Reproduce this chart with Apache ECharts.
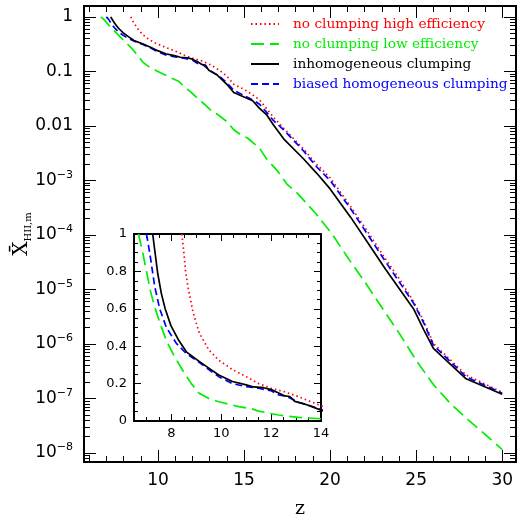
<!DOCTYPE html>
<html><head><meta charset="utf-8">
<script src="https://cdn.jsdelivr.net/npm/echarts@6/dist/echarts.min.js"></script>
<style>html,body{margin:0;padding:0;background:#fff}#c{width:522px;height:516px}</style>
</head><body><div id="c"></div>
<script>
// ---- data ----
const seriesNames = ['no clumping high efficiency','no clumping low efficiency','inhomogeneous clumping','biased homogeneous clumping'];
const zRed = [8.42,8.5,8.57,8.66,8.87,9.12,9.5,9.9,10.45,11.0,11.5,12.0,12.5,13.1,13.6,14.0,14.4,15.0,15.5,15.9,16.3,16.7,17.3,18.45,19.2,20.0,21.2,22.2,23.2,24.0,24.85,25.45,26.0,27.9,30.0];
const vRed = [1.0,0.9,0.8,0.72,0.58,0.47,0.38,0.325,0.275,0.237,0.2,0.175,0.158,0.13,0.103,0.082,0.058,0.047,0.037,0.03,0.021,0.0145,0.0091,0.0038,0.002,0.00112,0.00033,0.000112,0.000037,0.000016,0.000006,0.0000026,0.00000102,0.00000027,0.00000013];
const zGreen = [6.68,6.85,7.0,7.15,7.33,7.55,7.8,8.1,8.5,8.8,9.1,9.5,9.9,10.3,10.7,11.2,11.5,11.9,12.3,12.7,13.1,13.5,14.0,14.4,14.8,15.2,15.6,15.9,16.3,16.9,17.5,18.1,18.7,19.2,20.1,21.1,22.1,23.0,24.0,25.0,26.0,27.0,28.0,29.0,30.0];
const vGreen = [1.0,0.9,0.8,0.7,0.61,0.52,0.43,0.35,0.26,0.2,0.15,0.12,0.103,0.09,0.077,0.066,0.053,0.042,0.032,0.025,0.019,0.016,0.012,0.0085,0.0069,0.006,0.0047,0.0039,0.0025,0.00155,0.00085,0.00058,0.00036,0.00024,0.000105,0.0000355,0.0000126,0.0000047,0.0000016,0.0000005,0.00000018,0.00000008,0.000000041,0.000000022,0.0000000115];
const zBlack = [7.25,7.45,7.6,7.75,7.98,8.3,8.6,9.1,9.5,9.9,10.45,11.0,11.3,11.7,12.0,12.3,12.55,12.75,12.95,13.4,14.0,14.4,15.0,15.5,15.9,16.3,16.7,17.3,18.45,19.2,20.0,21.2,22.2,23.2,24.0,24.85,25.45,26.0,27.9,30.0];
const vBlack = [1.0,0.79,0.68,0.6,0.51,0.43,0.37,0.32,0.283,0.246,0.211,0.193,0.182,0.178,0.168,0.15,0.134,0.131,0.105,0.088,0.058,0.041,0.034,0.029,0.021,0.0162,0.0105,0.0058,0.0025,0.00138,0.0007,0.00021,0.000071,0.000024,0.0000105,0.0000044,0.0000018,0.00000083,0.00000023,0.00000012];
const zBlue = [7.0,7.13,7.33,7.53,7.8,8.2,8.6,9.1,9.5,9.9,10.45,11.0,11.5,12.0,12.3,12.6,13.1,13.6,14.0,14.4,15.0,15.5,15.9,16.3,16.7,17.3,18.45,19.2,20.0,21.2,22.2,23.2,24.0,24.85,25.45,26.0,27.9,30.0];
const vBlue = [1.0,0.9,0.72,0.6,0.5,0.415,0.36,0.315,0.275,0.237,0.2,0.184,0.175,0.162,0.14,0.133,0.1,0.08,0.062,0.045,0.036,0.03,0.025,0.018,0.0126,0.0085,0.0035,0.0018,0.001,0.0003,0.0001,0.000033,0.000014,0.0000056,0.0000024,0.00000095,0.00000025,0.000000125];

// ---- tick values ----
const mainXMajor = [10,15,20,25,30];
const mainXMinor = [6,7,8,9,11,12,13,14,16,17,18,19,21,22,23,24,26,27,28,29];
const mainYMajor = [1e-8,1e-7,1e-6,1e-5,1e-4,1e-3,0.01,0.1,1];
const mainYMinor = [];
for (let e = -9; e <= 0; e++) for (let k = 2; k <= 9; k++) mainYMinor.push(k * Math.pow(10, e));
const insetXMajor = [8,10,12,14];
const insetXMinor = [7,7.5,8.5,9,9.5,10.5,11,11.5,12.5,13,13.5];
const insetYMajor = [0,0.2,0.4,0.6,0.8,1];
const insetYMinor = [0.05,0.1,0.15,0.25,0.3,0.35,0.45,0.5,0.55,0.65,0.7,0.75,0.85,0.9,0.95];

const colors = ['#ff0000','#00ee00','#000000','#0000ff'];
const dashes = [[1.5,3],[13,6],'solid',[7,4]];
const zs = [zRed,zGreen,zBlack,zBlue];
const vs = [vRed,vGreen,vBlack,vBlue];

const SANS = 'DejaVu Sans';
const SERIF = 'DejaVu Serif';

function base(o) {
  const a = {
    type: o.type || 'value', gridIndex: o.grid, position: o.pos,
    min: o.min, max: o.max,
    axisLine: {show: false, onZero: false},
    axisTick: {show: false},
    axisLabel: {show: false},
    splitLine: {show: false}, minorTick: {show: false}, minorSplitLine: {show: false}
  };
  if (o.type === 'log') a.logBase = 10;
  return a;
}
function tickAxis(o) {
  const a = base(o);
  a.axisTick = {show: true, inside: true, length: o.len, customValues: o.ticks.slice(),
                lineStyle: {color: '#000', width: 1}};
  return a;
}
function labelAxis(o, labels, extra) {
  const a = base(o);
  a.axisLabel = Object.assign({show: true, customValues: o.ticks.slice(), color: '#000'}, labels);
  return Object.assign(a, extra || {});
}

const yMin = Math.pow(10, -8.165), yMax = Math.pow(10, 0.2);
const xMin = 5.7, xMax = 30.8;
const MX = {grid:0,min:xMin,max:xMax}, MY = {type:'log',grid:0,min:yMin,max:yMax};
const IX = {grid:1,min:6.5,max:14}, IY = {grid:1,min:0,max:1};
const w = (a, b) => Object.assign({}, a, b);

const xAxes = [
  labelAxis(w(MX,{pos:'bottom',ticks:mainXMajor}), {fontFamily:SANS,fontSize:17,margin:10},
    {name:'z',nameLocation:'middle',nameGap:38,nameMoveOverlap:false,nameTextStyle:{fontFamily:SERIF,fontSize:19,color:'#000'}}),
  tickAxis(w(MX,{pos:'bottom',len:12,ticks:mainXMajor})),
  tickAxis(w(MX,{pos:'bottom',len:6,ticks:mainXMinor})),
  tickAxis(w(MX,{pos:'top',len:12,ticks:mainXMajor})),
  tickAxis(w(MX,{pos:'top',len:6,ticks:mainXMinor})),
  labelAxis(w(IX,{pos:'bottom',ticks:insetXMajor}), {fontFamily:SANS,fontSize:13,margin:6}),
  tickAxis(w(IX,{pos:'bottom',len:7,ticks:insetXMajor})),
  tickAxis(w(IX,{pos:'bottom',len:4,ticks:insetXMinor})),
  tickAxis(w(IX,{pos:'top',len:7,ticks:insetXMajor})),
  tickAxis(w(IX,{pos:'top',len:4,ticks:insetXMinor}))
];

function yFmt(v) {
  const e = Math.round(Math.log10(v));
  if (e === 0) return '1';
  if (e === -1) return '0.1';
  if (e === -2) return '0.01';
  return '10{sup|\u2212' + (-e) + '}';
}

const yAxes = [
  labelAxis(w(MY,{pos:'left',ticks:mainYMajor}),
    {fontFamily:SANS,fontSize:17,margin:11,lineHeight:22,formatter:yFmt,
     rich:{sup:{fontFamily:SANS,fontSize:11,lineHeight:13,verticalAlign:'top',color:'#000'}}},
    {name:'{x|X\u0304}{s|HII,m}',nameLocation:'middle',nameGap:51,nameRotate:90,nameMoveOverlap:false,
     nameTextStyle:{color:'#000',rich:{x:{fontFamily:SERIF,fontSize:20,lineHeight:22,color:'#000'},
                                      s:{fontFamily:SERIF,fontSize:10,lineHeight:10,verticalAlign:'bottom',color:'#000'}}}}),
  tickAxis(w(MY,{pos:'left',len:12,ticks:mainYMajor})),
  tickAxis(w(MY,{pos:'left',len:6,ticks:mainYMinor})),
  tickAxis(w(MY,{pos:'right',len:12,ticks:mainYMajor})),
  tickAxis(w(MY,{pos:'right',len:6,ticks:mainYMinor})),
  labelAxis(w(IY,{pos:'left',ticks:insetYMajor}), {fontFamily:SANS,fontSize:13,margin:7}),
  tickAxis(w(IY,{pos:'left',len:7,ticks:insetYMajor})),
  tickAxis(w(IY,{pos:'left',len:4,ticks:insetYMinor})),
  tickAxis(w(IY,{pos:'right',len:7,ticks:insetYMajor})),
  tickAxis(w(IY,{pos:'right',len:4,ticks:insetYMinor}))
];

const series = [];
seriesNames.forEach((name, i) => {
  const data = zs[i].map((z, j) => [z, vs[i][j]]);
  const s = {name, type:'line', data, symbol:'none', showSymbol:false, smooth:false,
    lineStyle:{color:colors[i], width:1.7, type:dashes[i]}, itemStyle:{color:colors[i]},
    z: i === 2 ? 3 : 2, silent:true};
  series.push(Object.assign({}, s, {xAxisIndex:0, yAxisIndex:0}));
  series.push(Object.assign({}, s, {xAxisIndex:5, yAxisIndex:5, clip:true}));
});

const chart = echarts.init(document.getElementById('c'), null, {renderer:'canvas'});
chart.setOption({
  animation: false,
  backgroundColor: '#fff',
  grid: [
    {left:84, top:6, width:432, height:456, show:true, borderColor:'#000', borderWidth:2,
     backgroundColor:'transparent', containLabel:false, outerBoundsMode:'none'},
    {left:134, top:234, width:187, height:187, show:true, borderColor:'#000', borderWidth:2,
     backgroundColor:'transparent', containLabel:false, outerBoundsMode:'none'}
  ],
  legend: {
    orient:'vertical', left:250, top:17, padding:0, itemWidth:28, itemHeight:10, itemGap:6,
    selectedMode:false,
    itemStyle:{color:'transparent', borderColor:'transparent', borderWidth:0, opacity:0},
    textStyle:{fontFamily:SERIF, fontSize:13.7, padding:[0,0,0,9]},
    data: seriesNames.map((n, i) => ({name:n, textStyle:{color:colors[i]}}))
  },
  xAxis: xAxes,
  yAxis: yAxes,
  series
});
</script></body></html>
